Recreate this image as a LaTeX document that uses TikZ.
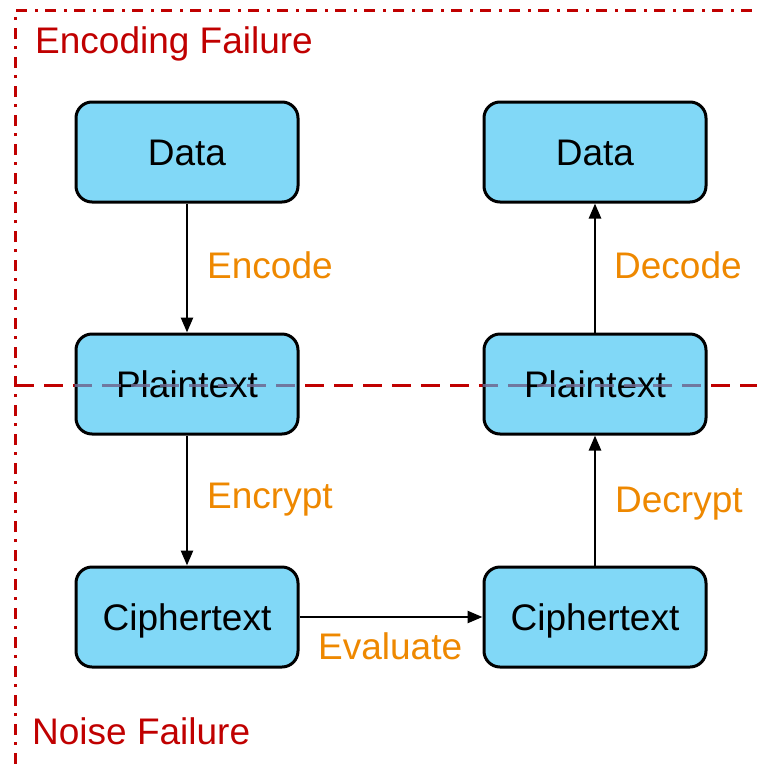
\documentclass[tikz,border=0pt]{standalone}
\usepackage{fontspec}
\setmainfont{Liberation Sans}
\usetikzlibrary{arrows.meta}
\definecolor{boxfill}{HTML}{81D8F7}
\definecolor{labelorange}{HTML}{EE8800}
\definecolor{failred}{HTML}{C00000}
\definecolor{splitover}{HTML}{6E6890}
\tikzset{
  stage/.style={draw=black, line width=3pt, fill=boxfill, rounded corners=16pt,
    minimum width=222pt, minimum height=100pt, inner sep=0pt,
    text height=26.5pt, text depth=0pt, font=\fontsize{37}{44}\selectfont},
  oplabel/.style={anchor=base west, inner sep=0pt, text=labelorange,
    font=\fontsize{37}{44}\selectfont},
  faillabel/.style={anchor=base west, inner sep=0pt, text=failred,
    font=\fontsize{37}{44}\selectfont},
  flow/.style={draw=black, line width=2.5pt, -{Triangle[length=15pt,width=12pt]}},
  region/.style={draw=failred, line width=3.1pt,
    dash pattern=on 11pt off 8pt on 3pt off 7pt},
  split/.style={line width=2.8pt, dash pattern=on 19pt off 10pt}
}
\begin{document}
\begin{tikzpicture}[x=1pt,y=-1pt]
  \useasboundingbox (0,0) rectangle (757,764);

  % outer encoding-failure region
  \coordinate (regionBottom) at (15.5,764);
  \coordinate (regionCorner) at (15.5,10.5);
  \coordinate (regionRight) at (757,10.5);
  \draw[region] (regionBottom) -- (regionCorner) -- (regionRight);

  % boundary between encoding and noise failure
  \coordinate (splitL) at (15,385.5);
  \coordinate (splitR) at (757,385.5);
  \draw[split, draw=failred] (splitL) -- (splitR);

  % stages
  \node[stage] (dataL)   at (187,152) {Data};
  \node[stage] (plainL)  at (187,384) {Plaintext};
  \node[stage] (cipherL) at (187,617) {Ciphertext};
  \node[stage] (dataR)   at (595,152) {Data};
  \node[stage] (plainR)  at (595,384) {Plaintext};
  \node[stage] (cipherR) at (595,617) {Ciphertext};

  % boundary seen through the plaintext boxes
  \begin{scope}
    \clip (plainL.south west) rectangle (plainL.north east)
          (plainR.south west) rectangle (plainR.north east);
    \draw[split, draw=splitover, opacity=0.85] (splitL) -- (splitR);
  \end{scope}

  % transitions
  \draw[flow] (dataL) -- (plainL);
  \draw[flow] (plainL) -- (cipherL);
  \draw[flow] (cipherL) -- (cipherR);
  \draw[flow] (cipherR) -- (plainR);
  \draw[flow] (plainR) -- (dataR);

  % operation labels
  \node[oplabel] (encode)   at (207,278) {Encode};
  \node[oplabel] (encrypt)  at (207,508) {Encrypt};
  \node[oplabel] (evaluate) at (318,659) {Evaluate};
  \node[oplabel] (decrypt)  at (615,512) {Decrypt};
  \node[oplabel] (decode)   at (614,278) {Decode};

  % failure regions
  \node[faillabel] (encFail)   at (35,53)  {Encoding Failure};
  \node[faillabel] (noiseFail) at (32,744) {Noise Failure};
\end{tikzpicture}
\end{document}
